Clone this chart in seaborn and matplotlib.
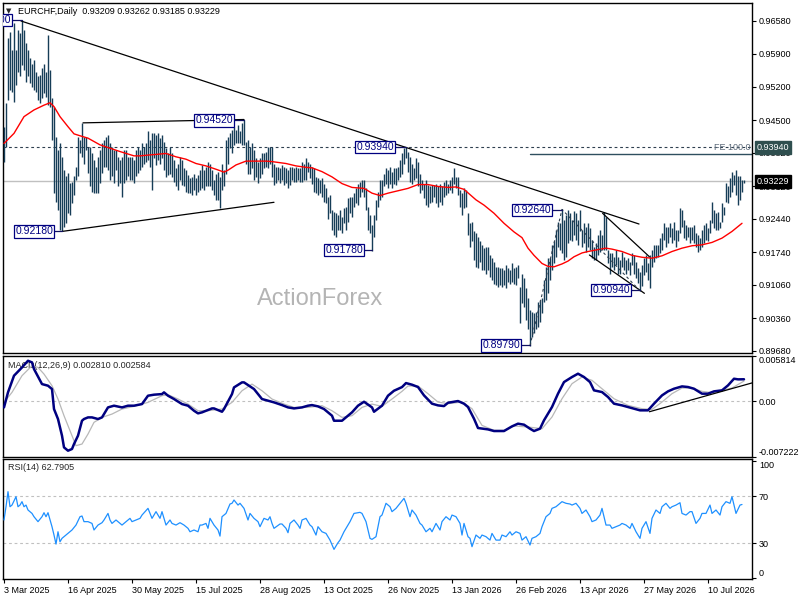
import matplotlib
matplotlib.use("Agg")
import matplotlib.pyplot as plt
import matplotlib.transforms as mtransforms
import seaborn as sns

# ---- price bars (daily high / low), bar index 0 = 3 Mar 2025 ----
highs = [
    0.9437, 0.9486, 0.9622, 0.9636, 0.9597, 0.9653, 0.9597, 0.9639, 0.9632, 0.9660,
    0.9639, 0.9611, 0.9597, 0.9580, 0.9569, 0.9576, 0.9552, 0.9542, 0.9545, 0.9559,
    0.9569, 0.9552, 0.9629, 0.9556, 0.9496, 0.9479, 0.9416, 0.9388, 0.9402, 0.9374,
    0.9346, 0.9333, 0.9340, 0.9319, 0.9322, 0.9333, 0.9353, 0.9416, 0.9409, 0.9444,
    0.9416, 0.9416, 0.9395, 0.9395, 0.9381, 0.9367, 0.9353, 0.9374, 0.9388, 0.9402,
    0.9409, 0.9416, 0.9420, 0.9402, 0.9395, 0.9388, 0.9388, 0.9374, 0.9367, 0.9374,
    0.9388, 0.9388, 0.9374, 0.9374, 0.9374, 0.9367, 0.9388, 0.9395, 0.9388, 0.9402,
    0.9395, 0.9402, 0.9429, 0.9409, 0.9423, 0.9423, 0.9420, 0.9423, 0.9413, 0.9420,
    0.9406, 0.9392, 0.9381, 0.9395, 0.9381, 0.9367, 0.9350, 0.9360, 0.9374, 0.9367,
    0.9350, 0.9346, 0.9336, 0.9329, 0.9332, 0.9339, 0.9329, 0.9336, 0.9346, 0.9357,
    0.9346, 0.9353, 0.9364, 0.9360, 0.9346, 0.9326, 0.9339, 0.9343, 0.9332, 0.9360,
    0.9346, 0.9409, 0.9416, 0.9423, 0.9430, 0.9437, 0.9430, 0.9441, 0.9427, 0.9444,
    0.9452, 0.9406, 0.9409, 0.9395, 0.9402, 0.9388, 0.9371, 0.9364, 0.9371, 0.9381,
    0.9381, 0.9385, 0.9395, 0.9395, 0.9395, 0.9360, 0.9353, 0.9353, 0.9350, 0.9357,
    0.9353, 0.9350, 0.9346, 0.9353, 0.9353, 0.9350, 0.9353, 0.9350, 0.9350, 0.9364,
    0.9360, 0.9371, 0.9364, 0.9360, 0.9353, 0.9350, 0.9332, 0.9329, 0.9325, 0.9329,
    0.9318, 0.9308, 0.9291, 0.9294, 0.9263, 0.9259, 0.9256, 0.9252, 0.9263, 0.9249,
    0.9266, 0.9270, 0.9287, 0.9291, 0.9291, 0.9298, 0.9308, 0.9318, 0.9322, 0.9325,
    0.9325, 0.9308, 0.9270, 0.9252, 0.9231, 0.9252, 0.9284, 0.9301, 0.9325, 0.9325,
    0.9339, 0.9350, 0.9346, 0.9353, 0.9343, 0.9350, 0.9350, 0.9353, 0.9367, 0.9381,
    0.9392, 0.9394, 0.9385, 0.9374, 0.9360, 0.9350, 0.9371, 0.9364, 0.9339, 0.9325,
    0.9318, 0.9325, 0.9315, 0.9312, 0.9315, 0.9315, 0.9318, 0.9312, 0.9318, 0.9312,
    0.9322, 0.9325, 0.9318, 0.9325, 0.9332, 0.9350, 0.9332, 0.9332, 0.9305, 0.9298,
    0.9308, 0.9305, 0.9256, 0.9235, 0.9238, 0.9218, 0.9214, 0.9207, 0.9197, 0.9190,
    0.9183, 0.9186, 0.9186, 0.9169, 0.9162, 0.9155, 0.9144, 0.9144, 0.9141, 0.9141,
    0.9137, 0.9148, 0.9141, 0.9137, 0.9151, 0.9141, 0.9144, 0.9148, 0.9102, 0.9130,
    0.9120, 0.9099, 0.9078, 0.9054, 0.9050, 0.9047, 0.9050, 0.9071, 0.9075, 0.9078,
    0.9116, 0.9144, 0.9162, 0.9162, 0.9190, 0.9197, 0.9221, 0.9238, 0.9235, 0.9264,
    0.9242, 0.9252, 0.9263, 0.9256, 0.9242, 0.9260, 0.9256, 0.9242, 0.9263, 0.9221,
    0.9235, 0.9228, 0.9235, 0.9225, 0.9200, 0.9186, 0.9193, 0.9211, 0.9221, 0.9211,
    0.9259, 0.9249, 0.9179, 0.9172, 0.9172, 0.9165, 0.9179, 0.9165, 0.9158, 0.9176,
    0.9165, 0.9158, 0.9162, 0.9155, 0.9172, 0.9169, 0.9155, 0.9141, 0.9134, 0.9148,
    0.9162, 0.9169, 0.9151, 0.9169, 0.9179, 0.9190, 0.9190, 0.9190, 0.9204, 0.9214,
    0.9235, 0.9228, 0.9228, 0.9235, 0.9225, 0.9238, 0.9221, 0.9221, 0.9266, 0.9263,
    0.9242, 0.9231, 0.9228, 0.9228, 0.9228, 0.9231, 0.9214, 0.9211, 0.9204, 0.9221,
    0.9231, 0.9235, 0.9225, 0.9242, 0.9280, 0.9263, 0.9256, 0.9259, 0.9238, 0.9277,
    0.9270, 0.9319, 0.9312, 0.9329, 0.9343, 0.9336, 0.9347, 0.9333, 0.9333, 0.9326,
    0.9326,
]
lows = [
    0.9364, 0.9395, 0.9493, 0.9514, 0.9510, 0.9489, 0.9524, 0.9552, 0.9542, 0.9566,
    0.9556, 0.9531, 0.9542, 0.9528, 0.9521, 0.9514, 0.9510, 0.9493, 0.9486, 0.9496,
    0.9507, 0.9500, 0.9482, 0.9479, 0.9409, 0.9298, 0.9280, 0.9263, 0.9221, 0.9218,
    0.9228, 0.9235, 0.9256, 0.9252, 0.9277, 0.9294, 0.9326, 0.9333, 0.9381, 0.9374,
    0.9360, 0.9388, 0.9340, 0.9312, 0.9301, 0.9298, 0.9298, 0.9298, 0.9319, 0.9340,
    0.9353, 0.9353, 0.9346, 0.9326, 0.9333, 0.9319, 0.9346, 0.9312, 0.9319, 0.9291,
    0.9319, 0.9326, 0.9333, 0.9326, 0.9326, 0.9319, 0.9333, 0.9340, 0.9346, 0.9353,
    0.9360, 0.9364, 0.9367, 0.9353, 0.9305, 0.9371, 0.9357, 0.9367, 0.9360, 0.9371,
    0.9346, 0.9332, 0.9336, 0.9339, 0.9332, 0.9322, 0.9312, 0.9305, 0.9326, 0.9315,
    0.9312, 0.9301, 0.9298, 0.9298, 0.9294, 0.9305, 0.9294, 0.9301, 0.9305, 0.9308,
    0.9305, 0.9312, 0.9312, 0.9312, 0.9305, 0.9294, 0.9284, 0.9284, 0.9266, 0.9305,
    0.9312, 0.9339, 0.9360, 0.9392, 0.9381, 0.9399, 0.9402, 0.9402, 0.9402, 0.9399,
    0.9399, 0.9360, 0.9339, 0.9339, 0.9350, 0.9326, 0.9332, 0.9319, 0.9329, 0.9339,
    0.9350, 0.9353, 0.9350, 0.9360, 0.9332, 0.9315, 0.9319, 0.9326, 0.9319, 0.9326,
    0.9315, 0.9319, 0.9308, 0.9315, 0.9326, 0.9322, 0.9322, 0.9326, 0.9322, 0.9322,
    0.9326, 0.9325, 0.9343, 0.9329, 0.9318, 0.9301, 0.9298, 0.9294, 0.9298, 0.9291,
    0.9280, 0.9277, 0.9245, 0.9256, 0.9221, 0.9211, 0.9207, 0.9221, 0.9221, 0.9214,
    0.9235, 0.9221, 0.9238, 0.9256, 0.9249, 0.9270, 0.9277, 0.9273, 0.9291, 0.9301,
    0.9291, 0.9263, 0.9221, 0.9214, 0.9178, 0.9207, 0.9242, 0.9270, 0.9284, 0.9291,
    0.9312, 0.9318, 0.9308, 0.9318, 0.9308, 0.9318, 0.9315, 0.9325, 0.9332, 0.9339,
    0.9360, 0.9371, 0.9343, 0.9322, 0.9318, 0.9325, 0.9329, 0.9312, 0.9298, 0.9305,
    0.9287, 0.9273, 0.9270, 0.9277, 0.9280, 0.9291, 0.9277, 0.9270, 0.9280, 0.9273,
    0.9291, 0.9294, 0.9298, 0.9305, 0.9298, 0.9318, 0.9308, 0.9294, 0.9270, 0.9252,
    0.9266, 0.9270, 0.9211, 0.9186, 0.9197, 0.9158, 0.9144, 0.9141, 0.9155, 0.9137,
    0.9137, 0.9130, 0.9137, 0.9123, 0.9116, 0.9109, 0.9106, 0.9102, 0.9106, 0.9102,
    0.9106, 0.9099, 0.9113, 0.9109, 0.9113, 0.9109, 0.9106, 0.9120, 0.9026, 0.9068,
    0.9061, 0.9033, 0.9015, 0.8979, 0.8998, 0.9005, 0.9015, 0.9019, 0.9029, 0.9047,
    0.9071, 0.9075, 0.9089, 0.9116, 0.9137, 0.9151, 0.9165, 0.9186, 0.9179, 0.9172,
    0.9158, 0.9165, 0.9193, 0.9200, 0.9197, 0.9211, 0.9200, 0.9190, 0.9218, 0.9186,
    0.9193, 0.9176, 0.9186, 0.9179, 0.9162, 0.9158, 0.9158, 0.9169, 0.9176, 0.9179,
    0.9179, 0.9179, 0.9151, 0.9130, 0.9144, 0.9137, 0.9148, 0.9130, 0.9130, 0.9144,
    0.9137, 0.9130, 0.9137, 0.9127, 0.9148, 0.9130, 0.9120, 0.9110, 0.9094, 0.9103,
    0.9127, 0.9134, 0.9117, 0.9099, 0.9144, 0.9155, 0.9162, 0.9165, 0.9172, 0.9179,
    0.9200, 0.9186, 0.9193, 0.9207, 0.9193, 0.9200, 0.9186, 0.9197, 0.9214, 0.9228,
    0.9204, 0.9200, 0.9207, 0.9193, 0.9200, 0.9193, 0.9186, 0.9176, 0.9179, 0.9186,
    0.9193, 0.9200, 0.9197, 0.9214, 0.9235, 0.9225, 0.9221, 0.9221, 0.9225, 0.9238,
    0.9252, 0.9280, 0.9277, 0.9291, 0.9301, 0.9315, 0.9294, 0.9273, 0.9284, 0.9301,
    0.9319,
]
last_close = 0.93229

# ---- moving average (red) ----
ma_x = [0, 5, 10, 15, 20, 23, 25, 28, 32, 35, 38, 42, 45, 48, 53, 58, 65, 68, 73, 76,
        81, 86, 91, 96, 101, 106, 110, 112, 116, 121, 126, 131, 134, 141, 146, 151,
        154, 159, 164, 169, 174, 180, 184, 188, 192, 197, 202, 207, 212, 217, 222,
        226, 230, 236, 240, 245, 250, 255, 259, 262, 265, 269, 272, 275, 279, 282,
        285, 289, 292, 297, 301, 304, 309, 314, 319, 324, 329, 334, 339, 344, 349,
        354, 359, 364, 369]
ma_vals = [0.9402, 0.9423, 0.9458, 0.9472, 0.9482, 0.9487, 0.9479, 0.9458, 0.9437,
           0.9422, 0.9418, 0.9413, 0.9406, 0.9399, 0.9392, 0.9385, 0.9376, 0.9376,
           0.9378, 0.9379, 0.9381, 0.9374, 0.9369, 0.9360, 0.9355, 0.9348, 0.9342,
           0.9346, 0.9357, 0.9365, 0.9365, 0.9365, 0.9364, 0.9360, 0.9355, 0.9352,
           0.9351, 0.9343, 0.9332, 0.9318, 0.9310, 0.9308, 0.9298, 0.9293, 0.9298,
           0.9303, 0.9308, 0.9316, 0.9316, 0.9312, 0.9310, 0.9311, 0.9306, 0.9284,
           0.9273, 0.9256, 0.9235, 0.9217, 0.9205, 0.9183, 0.9168, 0.9151, 0.9145,
           0.9144, 0.9150, 0.9156, 0.9165, 0.9173, 0.9176, 0.9180, 0.9183, 0.9181,
           0.9176, 0.9168, 0.9164, 0.9162, 0.9167, 0.9176, 0.9183, 0.9188, 0.9190,
           0.9195, 0.9204, 0.9218, 0.9235]

# ---- MACD(12,26,9) ----
macd_x = [0, 2, 5, 9, 12, 14, 15, 19, 22, 24, 25, 27, 29, 30, 32, 34, 35, 37, 39, 40,
          42, 44, 47, 49, 52, 55, 59, 62, 65, 69, 72, 75, 79, 80, 82, 85, 89, 92, 95,
          97, 99, 102, 104, 105, 109, 110, 114, 115, 119, 120, 122, 125, 129, 132,
          135, 139, 142, 145, 149, 152, 154, 157, 160, 164, 165, 169, 170, 174, 177,
          180, 184, 185, 189, 192, 195, 199, 201, 204, 207, 210, 214, 217, 220, 222,
          227, 230, 232, 235, 237, 242, 245, 250, 254, 257, 260, 263, 265, 268, 270,
          274, 277, 280, 284, 287, 290, 293, 295, 299, 302, 305, 309, 312, 315, 318,
          322, 325, 329, 332, 335, 339, 342, 345, 349, 352, 355, 359, 362, 365, 367,
          370]
macd_vals = [-0.00082, 0.00112, 0.00327, 0.00434, 0.00520, 0.00499, 0.00413, 0.00219,
             0.00198, 0.00155, -0.00103, -0.00232, -0.00447, -0.00598, -0.00641,
             -0.00619, -0.00555, -0.00447, -0.00254, -0.00232, -0.00211, -0.00211,
             -0.00232, -0.00211, -0.00082, -0.00060, -0.00082, -0.00060, -0.00060,
             -0.00039, 0.00069, 0.00082, 0.00090, 0.00112, 0.00069, 0.00026, -0.00039,
             -0.00060, -0.00125, -0.00159, -0.00146, -0.00116, -0.00095, -0.00095,
             -0.00138, -0.00103, 0.00090, 0.00176, 0.00241, 0.00241, 0.00206, 0.00155,
             0.00026, 0.00004, -0.00017, -0.00052, -0.00082, -0.00095, -0.00082,
             -0.00060, -0.00052, -0.00069, -0.00103, -0.00189, -0.00254, -0.00254,
             -0.00232, -0.00146, -0.00060, -0.00009, -0.00082, -0.00138, -0.00060,
             0.00069, 0.00133, 0.00180, 0.00232, 0.00211, 0.00181, 0.00073, -0.00034,
             -0.00056, -0.00065, -0.00022, 0.00000, -0.00034, -0.00077, -0.00228,
             -0.00348, -0.00366, -0.00387, -0.00387, -0.00327, -0.00292, -0.00305,
             -0.00357, -0.00387, -0.00357, -0.00249, -0.00077, 0.00095, 0.00245,
             0.00310, 0.00353, 0.00310, 0.00245, 0.00138, 0.00116, 0.00052, -0.00034,
             -0.00056, -0.00077, -0.00099, -0.00120, -0.00120, -0.00034, 0.00073,
             0.00125, 0.00159, 0.00189, 0.00181, 0.00159, 0.00095, 0.00095, 0.00125,
             0.00138, 0.00202, 0.00288, 0.00280, 0.00281]
signal_x = [0, 4, 9, 14, 17, 20, 24, 27, 30, 34, 36, 39, 42, 45, 49, 54, 59, 65, 72,
            79, 82, 87, 92, 97, 102, 109, 114, 119, 124, 129, 134, 140, 145, 152, 159,
            164, 169, 174, 179, 184, 189, 194, 199, 202, 207, 212, 217, 222, 229, 234,
            239, 245, 250, 255, 262, 269, 274, 279, 284, 289, 294, 299, 305, 312, 319,
            324, 329, 334, 339, 344, 349, 354, 359, 364, 370]
signal_vals = [-0.00017, 0.00112, 0.00327, 0.00456, 0.00434, 0.00348, 0.00198, 0.00026,
               -0.00189, -0.00447, -0.00576, -0.00555, -0.00426, -0.00275, -0.00211,
               -0.00168, -0.00103, -0.00069, -0.00017, 0.00069, 0.00082, 0.00026,
               -0.00039, -0.00125, -0.00125, -0.00103, -0.00017, 0.00133, 0.00219,
               0.00133, 0.00026, -0.00039, -0.00082, -0.00082, -0.00060, -0.00125,
               -0.00211, -0.00189, -0.00082, -0.00039, -0.00069, 0.00026, 0.00125,
               0.00194, 0.00194, 0.00095, -0.00013, -0.00034, -0.00013, -0.00099,
               -0.00314, -0.00378, -0.00378, -0.00322, -0.00335, -0.00357, -0.00206,
               0.00030, 0.00224, 0.00310, 0.00267, 0.00159, 0.00030, -0.00056,
               -0.00099, -0.00108, -0.00013, 0.00095, 0.00168, 0.00168, 0.00125,
               0.00108, 0.00138, 0.00168, 0.00258]

# ---- RSI(14) ----
rsi_x = [0, 1, 2, 3, 4, 6, 7, 8, 9, 10, 11, 12, 14, 15, 17, 19, 20, 21, 22, 24, 25,
         26, 27, 28, 29, 31, 33, 34, 36, 38, 39, 40, 42, 44, 45, 47, 49, 50, 52, 53,
         54, 56, 58, 59, 61, 63, 64, 66, 68, 69, 72, 73, 74, 76, 78, 79, 81, 83, 84,
         86, 88, 90, 92, 93, 95, 97, 98, 99, 101, 102, 103, 105, 107, 108, 109, 111,
         113, 114, 115, 117, 118, 120, 122, 123, 125, 127, 128, 130, 132, 133, 134,
         135, 138, 139, 141, 142, 143, 145, 147, 148, 149, 151, 153, 154, 156, 157,
         159, 161, 163, 165, 167, 168, 170, 173, 175, 178, 179, 181, 183, 184, 186,
         188, 189, 191, 193, 194, 196, 198, 200, 201, 203, 204, 206, 208, 209, 211,
         213, 214, 216, 218, 219, 221, 223, 224, 226, 228, 229, 230, 232, 233, 234,
         236, 238, 239, 241, 243, 244, 246, 248, 249, 251, 253, 254, 256, 258, 259,
         261, 263, 264, 266, 268, 269, 271, 273, 274, 276, 278, 279, 281, 283, 284,
         286, 288, 289, 291, 293, 294, 296, 298, 299, 301, 303, 304, 306, 308, 309,
         311, 313, 314, 316, 318, 319, 321, 323, 324, 326, 328, 329, 331, 333, 334,
         336, 338, 339, 341, 343, 344, 346, 348, 349, 351, 353, 354, 356, 358, 359,
         361, 363, 364, 366, 368, 369]
rsi_vals = [49.6, 60.9, 73.7, 60.9, 62.3, 69.4, 60.9, 62.3, 65.2, 60.9, 62.3, 58.1,
            55.2, 52.4, 48.2, 52.4, 55.8, 52.4, 55.8, 43.9, 36.8, 29.1, 39.6, 31.1,
            34.0, 36.8, 39.6, 41.1, 45.3, 52.4, 53.0, 48.2, 48.2, 46.7, 41.1, 45.3,
            47.3, 49.6, 55.2, 49.6, 46.7, 49.6, 46.7, 45.3, 48.2, 51.0, 48.2, 49.6,
            51.0, 53.8, 59.5, 55.2, 51.0, 56.7, 51.0, 56.7, 45.3, 49.6, 46.7, 45.3,
            47.3, 45.3, 42.5, 39.6, 41.1, 39.6, 45.3, 45.3, 46.7, 42.5, 51.0, 45.3,
            41.1, 35.9, 52.4, 55.2, 63.2, 63.8, 66.6, 62.3, 63.8, 59.5, 49.6, 55.2,
            51.0, 48.2, 43.9, 51.0, 49.6, 52.4, 46.7, 42.5, 46.2, 46.2, 42.5, 38.8,
            46.7, 49.6, 45.3, 42.5, 49.6, 51.0, 45.3, 43.9, 36.8, 43.9, 39.6, 38.2,
            32.5, 24.6, 30.3, 32.5, 39.6, 48.2, 55.2, 56.1, 55.2, 48.2, 34.0, 33.1,
            35.4, 52.4, 53.8, 63.8, 60.9, 56.7, 59.5, 63.8, 68.0, 63.8, 52.4, 58.1,
            53.8, 46.7, 45.3, 39.6, 42.5, 39.6, 46.7, 41.1, 48.2, 52.4, 49.6, 53.8,
            52.4, 46.7, 36.8, 46.7, 35.4, 34.0, 26.9, 36.8, 34.0, 36.8, 35.4, 32.5,
            38.2, 32.5, 32.5, 36.8, 35.4, 39.6, 36.8, 39.6, 38.2, 32.5, 35.4, 28.3,
            34.0, 35.4, 38.2, 43.9, 52.4, 55.2, 59.5, 60.9, 63.8, 65.2, 63.8, 63.2,
            62.3, 63.8, 59.5, 55.2, 58.1, 52.4, 48.2, 49.6, 53.8, 59.5, 45.3, 45.3,
            42.5, 43.9, 45.3, 46.7, 45.3, 42.5, 46.7, 39.6, 34.0, 42.5, 48.2, 38.2,
            51.0, 58.1, 55.2, 60.9, 63.8, 59.5, 60.9, 62.3, 64.3, 55.2, 53.8, 56.7,
            56.7, 46.7, 51.0, 55.2, 55.2, 62.3, 55.2, 58.1, 53.8, 60.9, 65.2, 63.8,
            69.4, 55.2, 62.3, 62.8]

# ---- chart objects (bar index, price) ----
main_trend = [(8.5, 0.9658), (317.5, 0.92335)]
tri_upper = [(39.5, 0.9445), (120, 0.9452)]
tri_lower = [(29, 0.9218), (135, 0.92789)]
wedge_upper = [(299.3, 0.92559), (322.7, 0.91651)]
wedge_lower = [(292.7, 0.91687), (320.2, 0.90886)]
fe_points = [(263, 0.8979), (279, 0.9264), (318, 0.9094)]
fe_level = 0.9380
hline_level = 0.9394
macd_trend = [(322.7, -0.00138), (375, 0.00241)]

# (text, right edge bar, price, bar touched)
swing_labels = [
    ("0.96600", 3.5, 0.9660, 9),
    ("0.94520", 114.5, 0.9450, 120),
    ("0.92180", 24.5, 0.9218, 29),
    ("0.93940", 195, 0.9394, 201),
    ("0.91780", 179.5, 0.9179, 184),
    ("0.92640", 273.5, 0.9263, 279),
    ("0.89790", 258, 0.8980, 263),
    ("0.90940", 313, 0.9096, 318),
]

price_ticks = [0.96580, 0.95900, 0.95200, 0.94500, 0.93820, 0.93120, 0.92440,
               0.91740, 0.91060, 0.90360, 0.89680]
date_ticks = [0, 32, 64, 96, 128, 160, 192, 224, 256, 288, 320, 352]
date_labels = ["3 Mar 2025", "16 Apr 2025", "30 May 2025", "15 Jul 2025",
               "28 Aug 2025", "13 Oct 2025", "26 Nov 2025", "13 Jan 2026",
               "26 Feb 2026", "13 Apr 2026", "27 May 2026", "10 Jul 2026"]

sns.set_style("white")
plt.rcParams['font.family'] = ['Liberation Sans', 'DejaVu Sans']

BAR_COLOR = "#163d57"
NAVY = "#000080"
FS = 6.5

fig = plt.figure(figsize=(8, 6), dpi=100)
W, H = 800, 600


def px_axes(x0, y0, x1, y1):
    return fig.add_axes([x0 / W, 1 - y1 / H, (x1 - x0) / W, (y1 - y0) / H])


ax_p = px_axes(3, 3, 752, 353)
ax_m = px_axes(3, 356, 752, 457)
ax_r = px_axes(3, 459, 752, 579)

for ax in (ax_p, ax_m, ax_r):
    ax.set_xlim(-0.5, 374)
    for sp in ax.spines.values():
        sp.set_color("black")
        sp.set_linewidth(1.0)
    ax.yaxis.tick_right()
    ax.tick_params(axis="y", length=3, width=0.8, labelsize=FS, pad=2,
                   colors="black", right=True, left=False)
    ax.set_facecolor("white")

# ---------------- price panel ----------------
bars = list(range(len(highs)))
ax_p.vlines(bars, lows, highs, color=BAR_COLOR, lw=1.0, zorder=3)
sns.lineplot(x=ma_x, y=ma_vals, ax=ax_p, color="red", lw=1.0, zorder=4)
ax_p.set_ylim(0.89638, 0.96956)
ax_p.set_yticks(price_ticks)
ax_p.set_yticklabels([f"{t:.5f}" for t in price_ticks])
ax_p.set_xticks([])
ax_p.set_xlabel("")
ax_p.set_ylabel("")

# reference lines
ax_p.axhline(last_close, color="#c0c0c0", lw=1.0, zorder=1)
ax_p.axhline(hline_level, color="#2f3f4f", lw=0.8, ls=(0, (2.5, 2.5)), zorder=2)
ax_p.plot([fe_points[0][0], 374], [fe_level, fe_level], color="#2f4f5f", lw=1.0, zorder=2)
ax_p.text(0.998, hline_level - 0.0001, "FE 100.0", transform=mtransforms.blended_transform_factory(
    ax_p.transAxes, ax_p.transData), ha="right", va="center", fontsize=FS, color="#5a6878", zorder=5)

# trend lines
for seg in (main_trend, tri_upper, tri_lower, wedge_upper, wedge_lower):
    ax_p.plot([seg[0][0], seg[1][0]], [seg[0][1], seg[1][1]], color="black", lw=0.9, zorder=5)
ax_p.plot([p[0] for p in fe_points], [p[1] for p in fe_points], color="#2f3f4f",
          lw=0.8, ls=(0, (2.5, 2.5)), zorder=5)

# swing labels
for text, xr, price, bar in swing_labels:
    ax_p.plot([xr, bar], [price, price], color="#101060", lw=0.9, zorder=5)
    ax_p.text(xr, price, text, ha="right", va="center", fontsize=7.5, color=NAVY,
              clip_on=True, zorder=6,
              bbox=dict(boxstyle="square,pad=0.12", fc="white", ec=NAVY, lw=0.9))

# header and watermark
ax_p.text(0.004, 0.977, "\u25bc", transform=ax_p.transAxes, fontsize=5, ha="left",
          va="center", family=["DejaVu Sans"])
ax_p.text(0.02, 0.977, "EURCHF,Daily  0.93209 0.93262 0.93185 0.93229",
          transform=ax_p.transAxes, fontsize=FS, ha="left", va="center", color="black")
ax_p.text(0.423, 0.154, "ActionForex", transform=ax_p.transAxes, fontsize=17,
          ha="center", va="center", color="#b4b4b4", zorder=0)

# right axis price boxes
rt = mtransforms.blended_transform_factory(ax_p.transAxes, ax_p.transData)
ax_p.text(1 + 5 / 749, hline_level, "0.93940", transform=rt, ha="left", va="center",
          fontsize=FS, color="white", clip_on=False, zorder=10,
          bbox=dict(boxstyle="square,pad=0.2", fc="#2f4f4f", ec="#2f4f4f"))
ax_p.text(1 + 5 / 749, last_close, f"{last_close:.5f}", transform=rt, ha="left",
          va="center", fontsize=FS, color="white", clip_on=False, zorder=10,
          bbox=dict(boxstyle="square,pad=0.2", fc="black", ec="black"))

# ---------------- MACD panel ----------------
ax_m.axhline(0, color="#c0c0c0", lw=0.8, ls=(0, (2.5, 2.5)), zorder=1)
ax_m.text(0.0067, 0.91, "MACD(12,26,9) 0.002810 0.002584", transform=ax_m.transAxes,
          fontsize=FS, ha="left", va="center", zorder=1)
sns.lineplot(x=signal_x, y=signal_vals, ax=ax_m, color="#b8b8b8", lw=0.9, zorder=2)
sns.lineplot(x=macd_x, y=macd_vals, ax=ax_m, color=NAVY, lw=1.8, zorder=3)
ax_m.plot([macd_trend[0][0], macd_trend[1][0]], [macd_trend[0][1], macd_trend[1][1]],
          color="black", lw=0.9, zorder=4)
ax_m.set_ylim(-0.007222, 0.005814)
ax_m.set_yticks([-0.007222, 0.0, 0.005814])
ax_m.set_yticklabels(["-0.007222", "0.00", "0.005814"])
tl = ax_m.get_yticklabels()
tl[0].set_va("bottom")
tl[2].set_va("top")
ax_m.set_xticks([])
ax_m.set_xlabel("")
ax_m.set_ylabel("")

# ---------------- RSI panel ----------------
for lvl in (70, 30):
    ax_r.axhline(lvl, color="#c0c0c0", lw=0.8, ls=(0, (2.5, 2.5)), zorder=1)
sns.lineplot(x=rsi_x, y=rsi_vals, ax=ax_r, color="#1e90ff", lw=0.9, zorder=3)
ax_r.text(0.0067, 0.925, "RSI(14) 62.7905", transform=ax_r.transAxes,
          fontsize=FS, ha="left", va="center")
ax_r.set_ylim(-0.6, 101.5)
ax_r.set_yticks([0, 30, 70, 100])
ax_r.set_yticklabels(["0", "30", "70", "100"])
tl = ax_r.get_yticklabels()
tl[0].set_va("bottom")
tl[3].set_va("top")
ax_r.set_xticks(date_ticks)
ax_r.set_xticklabels(date_labels, ha="left")
ax_r.tick_params(axis="x", length=3, width=0.8, labelsize=FS, pad=2, bottom=True,
                 colors="black")
ax_r.set_xlabel("")
ax_r.set_ylabel("")

fig.savefig("out.png", dpi=100)
